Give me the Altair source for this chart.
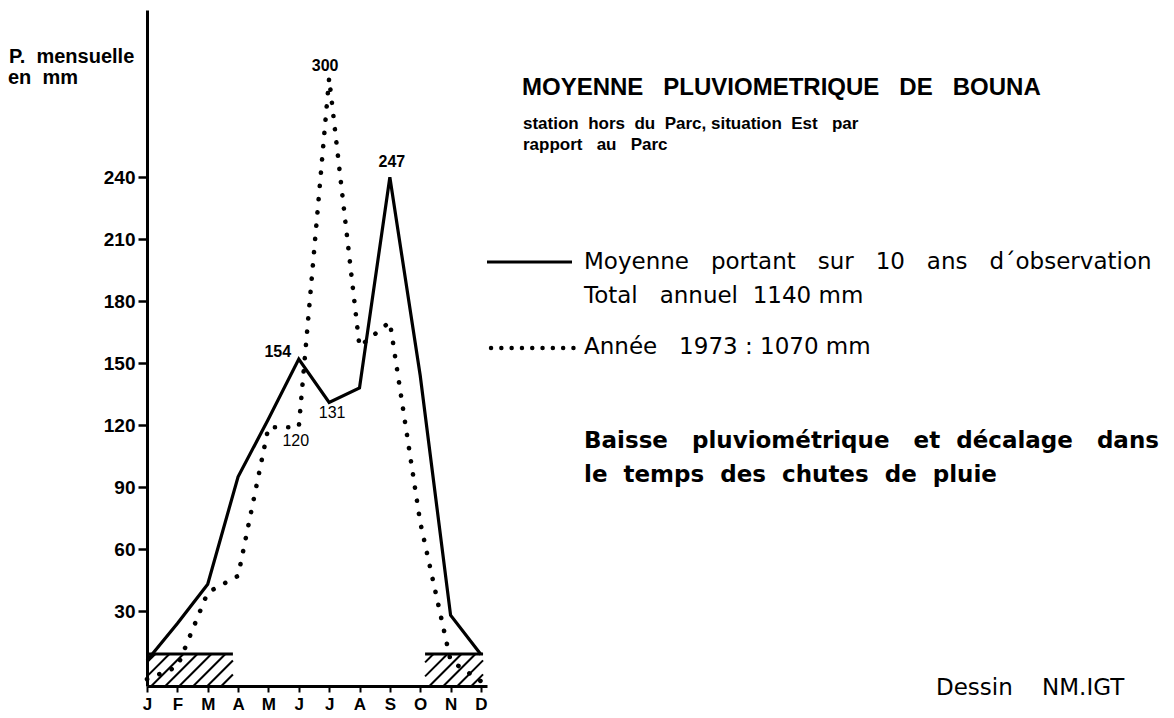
import json
import altair as alt
import pandas as pd

# ---------------- data ----------------
months = ["J", "F", "M", "A", "M", "J", "J", "A", "S", "O", "N", "D"]
mean_10yr = [6, 24, 43, 95, 123, 152, 131, 138, 240, 144, 28, 9]      # solid line (mm)
year_1973 = [-3, 3, 39, 47, 119, 119, 288, 158, 170, 73, 6, -4]       # dotted line (mm)
y_ticks = [30, 60, 90, 120, 150, 180, 210, 240]

# hatched dry-season bands (month index, mm)
band_start = [0.0, 9.16]
band_end = [2.83, 11.07]
band_top = [9.2, 9.2]
band_bottom = -6.3

# value annotations
ann_text = ["154", "131", "120", "300", "247"]
ann_month = [5, 6, 5, 6, 8]
ann_series = ["mean", "mean", "1973", "1973", "mean"]

# ---------------- style ----------------
BOLD = "Liberation Sans, Arial, sans-serif"
MED = "DejaVu Sans, sans-serif"
NB = "\u00a0"
OX, OY = 147, 10  # page position of plot origin

X_DOMAIN = [0, 11.2]
Y_DOMAIN = [-6.3, 321]
W, H = 340, 676

xs = alt.Scale(domain=X_DOMAIN, nice=False, zero=False)
ys = alt.Scale(domain=Y_DOMAIN, nice=False, zero=False)

label_expr = json.dumps(months) + "[datum.value]"
XAXIS = alt.Axis(values=list(range(12)), labelExpr=label_expr, title=None, grid=False,
                 labelOverlap=False, labelFlush=False,
                 domainColor="black", domainWidth=3, tickColor="black", tickWidth=2,
                 tickSize=6, labelPadding=4, labelFont=BOLD, labelFontSize=17,
                 labelFontWeight="bold", labelColor="black")
YAXIS = alt.Axis(values=y_ticks, title=None, grid=False, domainColor="black",
                 labelOverlap=False, labelFlush=False,
                 domainWidth=3, tickColor="black", tickWidth=2.5, tickSize=9,
                 labelPadding=3, labelFont=BOLD, labelFontSize=19,
                 labelFontWeight="bold", labelColor="black")


def X(f):
    return alt.X(f, scale=xs, axis=XAXIS)


def Y(f):
    return alt.Y(f, scale=ys, axis=YAXIS)


df = pd.DataFrame({
    "m": list(range(12)),
    "mean": mean_10yr,
    "y1973": year_1973,
})

base = alt.Chart(df)

solid = base.mark_line(color="black", strokeWidth=3.2, strokeJoin="miter", clip=False).encode(
    x=X("m:Q"), y=Y("mean:Q"))

dotted = base.mark_line(color="black", strokeWidth=4.6, strokeDash=[0.1, 13.2],
                        strokeCap="round", clip=False).encode(
    x=X("m:Q"), y=Y("y1973:Q"))

# bands
bands = pd.DataFrame({"x0": band_start, "x1": band_end, "top": band_top})
band_lines = alt.Chart(bands).mark_rule(color="black", strokeWidth=3).encode(
    x=X("x0:Q"), x2="x1:Q", y=Y("top:Q"))

# hatch pattern (45 deg in pixel space) clipped to each band
px_m = W / (X_DOMAIN[1] - X_DOMAIN[0])
px_u = H / (Y_DOMAIN[1] - Y_DOMAIN[0])
rows = []
for s, e, t in zip(band_start, band_end, band_top):
    hpx = (t - band_bottom) * px_u
    span = hpx / px_m           # horizontal span in months
    step = 14.0 / px_m
    xb = s - span + step * 0.6
    while xb < e:
        xa, ya = xb, band_bottom
        xe_, ye_ = xb + span, t
        if xa < s:
            ya = band_bottom + (s - xa) / span * (t - band_bottom)
            xa = s
        if xe_ > e:
            ye_ = band_bottom + (e - xb) / span * (t - band_bottom)
            xe_ = e
        if xe_ > xa:
            rows.append({"xa": xa, "ya": ya, "xb": xe_, "yb": ye_})
        xb += step
hatch = alt.Chart(pd.DataFrame(rows)).mark_rule(color="black", strokeWidth=2).encode(
    x=X("xa:Q"), y=Y("ya:Q"), x2="xb:Q", y2="yb:Q")

# value annotations
ann_layers = []
offsets = [(-21, -7), (3, 11), (-3, 14), (-4, -12), (2, -15)]
weights = ["bold", "normal", "normal", "bold", "bold"]
for t, m, s, (dx, dy), wgt in zip(ann_text, ann_month, ann_series, offsets, weights):
    val = mean_10yr[m] if s == "mean" else year_1973[m]
    d = pd.DataFrame({"m": [m], "v": [val], "t": [t]})
    ann_layers.append(
        alt.Chart(d).mark_text(dx=dx, dy=dy, font=BOLD, fontSize=16, fontWeight=wgt,
                               color="black", align="center", baseline="middle").encode(
            x=X("m:Q"), y=Y("v:Q"), text="t:N"))


# free texts (page coordinates)
def txt(s, x, y, font, size, weight="normal", align="left"):
    return alt.Chart(pd.DataFrame({"t": [s]})).mark_text(
        font=font, fontSize=size, fontWeight=weight, color="black",
        align=align, baseline="middle").encode(
        x=alt.value(x - OX), y=alt.value(y - OY), text="t:N")


def sp(n):
    return NB * n


texts = [
    txt("P." + sp(2) + "mensuelle", 9, 57, BOLD, 20, "bold"),
    txt("en" + sp(2) + "mm", 8, 78, BOLD, 20, "bold"),
    txt("MOYENNE" + sp(3) + "PLUVIOMETRIQUE" + sp(3) + "DE" + sp(3) + "BOUNA",
        522, 88, BOLD, 24, "bold"),
    txt("station" + sp(2) + "hors" + sp(2) + "du" + sp(2) + "Parc," + sp(1) + "situation"
        + sp(2) + "Est" + sp(3) + "par", 523, 124, BOLD, 17, "bold"),
    txt("rapport" + sp(3) + "au" + sp(3) + "Parc", 523, 145, BOLD, 17, "bold"),
    txt("Moyenne" + sp(3) + "portant" + sp(3) + "sur" + sp(3) + "10" + sp(3) + "ans" + sp(3)
        + "d\u00b4observation", 584, 262, MED, 23),
    txt("Total" + sp(3) + "annuel" + sp(2) + "1140" + sp(1) + "mm", 584, 296, MED, 23),
    txt("Ann\u00e9e" + sp(3) + "1973" + sp(1) + ":" + sp(1) + "1070" + sp(1) + "mm",
        584, 347, MED, 23),
    txt("Baisse" + sp(3) + "pluviom\u00e9trique" + sp(3) + "et" + sp(2) + "d\u00e9calage"
        + sp(3) + "dans", 584, 441, MED, 23, "bold"),
    txt("le" + sp(2) + "temps" + sp(2) + "des" + sp(2) + "chutes" + sp(2) + "de" + sp(2)
        + "pluie", 584, 475, MED, 23, "bold"),
    txt("Dessin" + sp(4) + "NM.IGT", 936, 688, MED, 23),
]

leg_solid = alt.Chart(pd.DataFrame({"a": [0]})).mark_rule(color="black", strokeWidth=3).encode(
    x=alt.value(487 - OX), x2=alt.value(572 - OX), y=alt.value(262 - OY))
leg_dot = alt.Chart(pd.DataFrame({"a": [0]})).mark_rule(
    color="black", strokeWidth=4.4, strokeDash=[0.1, 10.2], strokeCap="round").encode(
    x=alt.value(491 - OX), x2=alt.value(574 - OX), y=alt.value(348 - OY))

chart = alt.layer(
    hatch, band_lines, solid, dotted, *ann_layers, *texts, leg_solid, leg_dot
).properties(
    width=W, height=H,
    padding={"left": 139, "top": 2, "right": 679, "bottom": 32},
    autosize="none",
    background="white",
).configure_view(stroke=None)

chart.save("out.html", embed_options={"renderer": "svg", "actions": False})
